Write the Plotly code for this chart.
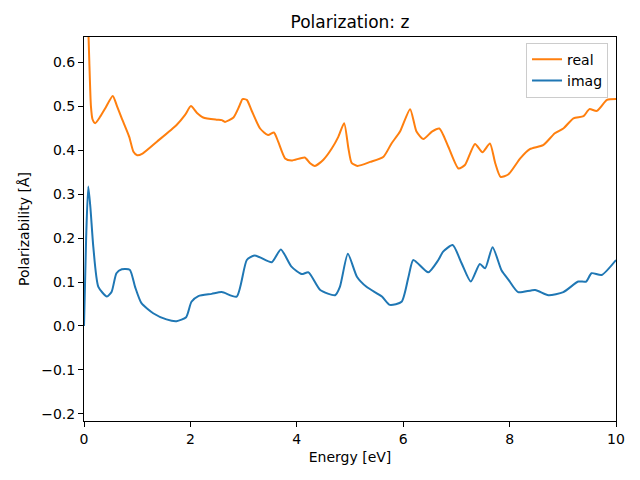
import plotly.graph_objects as go

# Real part of polarizability
real_x = [0.0, 0.06, 0.10, 0.13, 0.16, 0.21, 0.30, 0.40, 0.54, 0.62, 0.71, 0.85, 0.93, 1.00, 1.10,
          1.37, 1.74, 1.90, 2.01, 2.12, 2.24, 2.49, 2.59, 2.65, 2.81, 2.92, 2.98, 3.06, 3.15, 3.31,
          3.46, 3.57, 3.65, 3.78, 3.90, 4.15, 4.25, 4.34, 4.50, 4.66, 4.78, 4.89, 4.97, 5.03, 5.14,
          5.38, 5.63, 5.78, 5.94, 6.13, 6.25, 6.38, 6.54, 6.68, 6.85, 7.04, 7.16, 7.35, 7.49, 7.63,
          7.73, 7.83, 7.98, 8.20, 8.38, 8.63, 8.85, 9.01, 9.20, 9.39, 9.50, 9.64, 9.83, 10.0]
real_y = [1.00, 0.76, 0.60, 0.50, 0.470, 0.461, 0.475, 0.495, 0.523, 0.500, 0.472, 0.430, 0.396, 0.388, 0.392,
          0.419, 0.457, 0.480, 0.500, 0.485, 0.474, 0.469, 0.468, 0.464, 0.474, 0.500, 0.516, 0.514, 0.490, 0.449,
          0.434, 0.440, 0.419, 0.381, 0.376, 0.383, 0.370, 0.364, 0.378, 0.404, 0.430, 0.461, 0.404, 0.371, 0.364,
          0.373, 0.385, 0.415, 0.442, 0.493, 0.442, 0.425, 0.442, 0.449, 0.407, 0.358, 0.366, 0.414, 0.395, 0.415,
          0.370, 0.339, 0.345, 0.381, 0.402, 0.411, 0.438, 0.449, 0.472, 0.477, 0.493, 0.489, 0.514, 0.516]

# Imaginary part of polarizability
imag_x = [0.0, 0.04, 0.08, 0.12, 0.175, 0.27, 0.43, 0.52, 0.61, 0.71, 0.86, 0.96, 1.08, 1.30, 1.55,
          1.74, 1.92, 2.02, 2.15, 2.40, 2.59, 2.87, 3.06, 3.20, 3.31, 3.53, 3.70, 3.90, 4.09, 4.22,
          4.44, 4.72, 4.81, 4.96, 5.13, 5.31, 5.60, 5.75, 5.97, 6.10, 6.19, 6.47, 6.66, 6.75, 6.93,
          7.10, 7.27, 7.44, 7.54, 7.68, 7.85, 7.98, 8.16, 8.48, 8.73, 9.01, 9.29, 9.44, 9.54, 9.73, 10.0]
imag_y = [0.0, 0.20, 0.317, 0.27, 0.180, 0.089, 0.067, 0.078, 0.120, 0.129, 0.128, 0.089, 0.052, 0.029, 0.015,
          0.011, 0.020, 0.055, 0.068, 0.073, 0.077, 0.067, 0.150, 0.160, 0.156, 0.145, 0.174, 0.135, 0.118, 0.122,
          0.082, 0.070, 0.089, 0.164, 0.112, 0.089, 0.067, 0.048, 0.055, 0.112, 0.150, 0.122, 0.150, 0.169, 0.184,
          0.142, 0.101, 0.141, 0.131, 0.179, 0.126, 0.105, 0.077, 0.082, 0.070, 0.077, 0.101, 0.101, 0.120, 0.116, 0.150]

x_ticks = [0, 2, 4, 6, 8, 10]
y_ticks = [-0.2, -0.1, 0.0, 0.1, 0.2, 0.3, 0.4, 0.5, 0.6]
y_tick_text = ["\u22120.2", "\u22120.1", "0.0", "0.1", "0.2", "0.3", "0.4", "0.5", "0.6"]

fig = go.Figure()
fig.add_trace(go.Scatter(x=real_x, y=real_y, mode="lines", name="real",
                         line=dict(color="#ff7f0e", width=2, shape="spline", smoothing=0.6)))
fig.add_trace(go.Scatter(x=imag_x, y=imag_y, mode="lines", name="imag",
                         line=dict(color="#1f77b4", width=2, shape="spline", smoothing=0.6)))

axis_common = dict(showline=True, linecolor="black", linewidth=1, mirror=True,
                   ticks="outside", ticklen=5, tickcolor="black", showgrid=False, zeroline=False,
                   automargin=False, tickfont=dict(size=14, color="black"))

# page body has an 8px margin, so the figure is 632x472 placed at (8, 8)
W, H = 632, 472
fig.update_layout(
    width=W, height=H,
    margin=dict(l=76, r=24, t=29, b=59),
    paper_bgcolor="white", plot_bgcolor="white",
    font=dict(family="DejaVu Sans", color="black"),
    title=dict(text="Polarization: z", x=0.5, xref="paper", xanchor="center",
               y=1 - 14 / H, yanchor="middle", font=dict(size=17)),
    xaxis=dict(range=[0, 10], tickvals=x_ticks,
               title=dict(text="Energy [eV]", font=dict(size=14), standoff=6), **axis_common),
    yaxis=dict(range=[-0.216, 0.657], tickvals=y_ticks, ticktext=y_tick_text,
               title=dict(text="Polarizability [\u00c5]", font=dict(size=14), standoff=8), **axis_common),
    legend=dict(x=0.985, y=0.985, xanchor="right", yanchor="top",
                bordercolor="#cccccc", borderwidth=1, bgcolor="rgba(255,255,255,0.8)",
                font=dict(size=14)),
    showlegend=True,
)

fig.write_html("out.html")
